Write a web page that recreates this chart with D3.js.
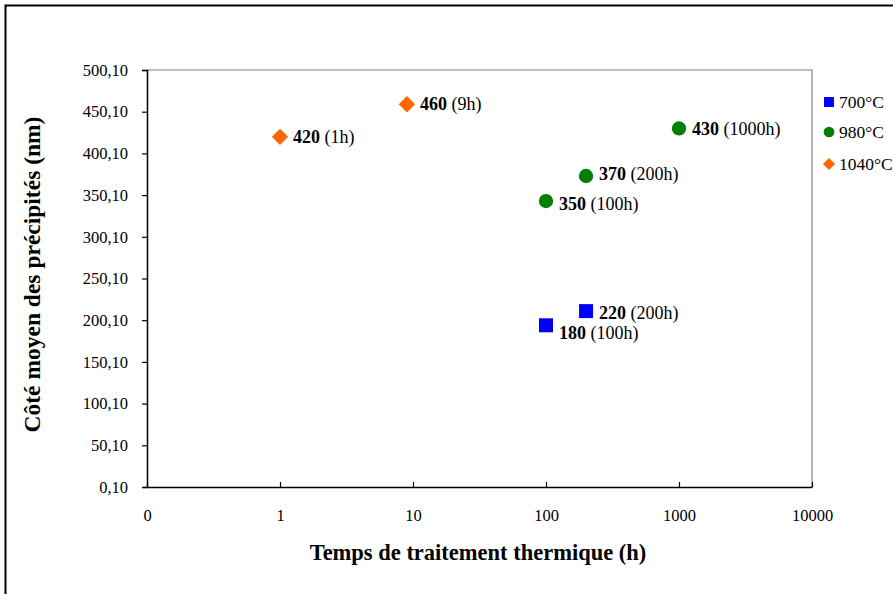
<!DOCTYPE html>
<html>
<head>
<meta charset="utf-8">
<script src="https://cdn.jsdelivr.net/npm/d3@7"></script>
<style>
  body { margin: 0; background: #fff; }
  svg { display: block; }
  text { font-family: "Liberation Serif", "Times New Roman", Times, serif; }
</style>
</head>
<body>
<svg id="chart" width="893" height="594"></svg>
<script>
// ---- data ----
const seriesNames = ["700°C", "980°C", "1040°C"];
const seriesColors = ["#0000ff", "#008000", "#ff6600"];
const seriesShapes = ["square", "circle", "diamond"];

const times700 = [100, 200];
const sizes700 = [194, 211];
const labels700 = ["180", "220"];

const times980 = [100, 200, 1000];
const sizes980 = [343, 373, 430];
const labels980 = ["350", "370", "430"];

const times1040 = [1, 9];
const sizes1040 = [420, 459];
const labels1040 = ["420", "460"];

const xTickValues = [0.1, 1, 10, 100, 1000, 10000];
const xTickLabels = ["0", "1", "10", "100", "1000", "10000"];
const yTickValues = [0.1, 50.1, 100.1, 150.1, 200.1, 250.1, 300.1, 350.1, 400.1, 450.1, 500.1];

const xTitle = "Temps de traitement thermique (h)";
const yTitle = "Côté moyen des précipités (nm)";

// ---- layout ----
const svg = d3.select("#chart");
const L = 147, R = 812, T = 70, B = 487;
const FONT = "Liberation Serif, Times New Roman, serif";

const x = d3.scaleLog().domain([0.1, 10000]).range([L, R]);
const y = d3.scaleLinear().domain([0.1, 500.1]).range([B, T]);

// outer frame
svg.append("rect").attr("x", 5.5).attr("y", 5.5).attr("width", 900).attr("height", 600)
  .attr("fill", "none").attr("stroke", "#000").attr("stroke-width", 2);

// plot area border (top/right gray)
svg.append("path")
  .attr("d", `M${L},${T}H${R}V${B}`)
  .attr("fill", "none").attr("stroke", "#808080").attr("stroke-width", 1.2);

// y axis
const yAxis = d3.axisLeft(y).tickValues(yTickValues).tickSize(5)
  .tickFormat(d => d3.format(".2f")(d).replace(".", ","));
const gy = svg.append("g").attr("transform", `translate(${L},0)`).call(yAxis);
gy.attr("font-family", FONT);
gy.select(".domain").attr("stroke", "#000").attr("stroke-width", 1.5);
gy.selectAll(".tick line").attr("stroke", "#000").attr("stroke-width", 1.2);
gy.selectAll(".tick text").attr("font-size", 16.5).attr("fill", "#000")
  .attr("font-family", FONT).attr("x", -19);

// x axis
const xAxis = d3.axisBottom(x).tickValues(xTickValues).tickSizeInner(-5).tickSizeOuter(0)
  .tickFormat((d, i) => xTickLabels[i]);
const gx = svg.append("g").attr("transform", `translate(0,${B})`).call(xAxis);
gx.attr("font-family", FONT);
gx.select(".domain").attr("stroke", "#000").attr("stroke-width", 1.5);
gx.selectAll(".tick line").attr("stroke", "#000").attr("stroke-width", 1.2);
gx.selectAll(".tick text").attr("font-size", 16.5).attr("fill", "#000")
  .attr("font-family", FONT).attr("y", 22);

// axis titles
svg.append("text").attr("x", 478).attr("y", 560)
  .attr("text-anchor", "middle").attr("font-weight", "bold").attr("font-size", 22.5)
  .text(xTitle);
svg.append("text").attr("transform", `translate(40,${(T + B) / 2 - 4}) rotate(-90)`)
  .attr("text-anchor", "middle").attr("font-weight", "bold").attr("font-size", 23.5)
  .text(yTitle);

// markers
const symbolFor = {
  square: d3.symbol().type(d3.symbolSquare).size(196),
  circle: d3.symbol().type(d3.symbolCircle).size(160),
  diamond: d3.symbol().type(d3.symbolDiamond2).size(170)
};

const series = [
  { t: times700, s: sizes700, l: labels700 },
  { t: times980, s: sizes980, l: labels980 },
  { t: times1040, s: sizes1040, l: labels1040 }
];
// label vertical nudges (style only), per series/point
const labelNudge = [[8, 2], [3, -2, 1], [0, 0]];

series.forEach((ser, si) => {
  const pts = ser.t.map((t, i) => ({ t, s: ser.s[i], l: ser.l[i], n: labelNudge[si][i] }));
  const g = svg.append("g");
  g.selectAll("path").data(pts).enter().append("path")
    .attr("d", symbolFor[seriesShapes[si]]())
    .attr("transform", d => `translate(${x(d.t)},${y(d.s)})`)
    .attr("fill", seriesColors[si]);
  const tx = g.selectAll("text").data(pts).enter().append("text")
    .attr("x", d => x(d.t) + 13).attr("y", d => y(d.s) + 6 + d.n)
    .attr("font-size", 18).attr("fill", "#000");
  tx.append("tspan").attr("font-weight", "bold").text(d => d.l);
  tx.append("tspan").text((d) => ` (${d.t}h)`);
});

// legend
const legY = [102, 132, 164];
seriesNames.forEach((name, i) => {
  svg.append("path")
    .attr("d", d3.symbol().type(
      seriesShapes[i] === "square" ? d3.symbolSquare :
      seriesShapes[i] === "circle" ? d3.symbolCircle : d3.symbolDiamond2).size(
      seriesShapes[i] === "square" ? 100 : seriesShapes[i] === "circle" ? 90 : 95)())
    .attr("transform", `translate(829,${legY[i]})`)
    .attr("fill", seriesColors[i]);
  svg.append("text").attr("x", 839).attr("y", legY[i] + 6)
    .attr("font-size", 17.5).attr("fill", "#000").text(name);
});
</script>
</body>
</html>
